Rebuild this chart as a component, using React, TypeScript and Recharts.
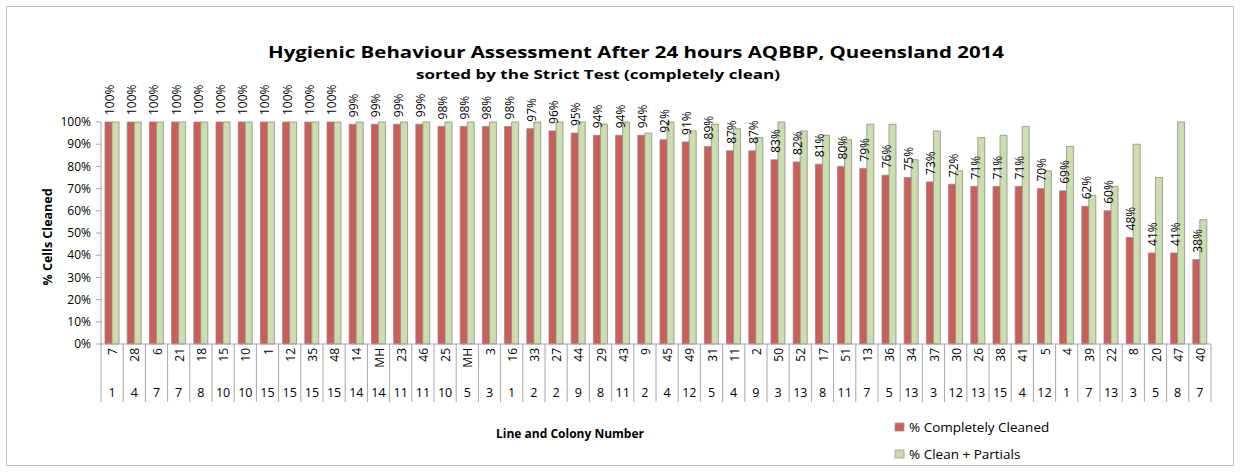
import React from 'react';
import { BarChart, Bar, XAxis, YAxis, LabelList, Legend } from 'recharts';

const lineNumbers = ['7','28','6','21','18','15','10','1','12','35','48','14','MH','23','46','25','MH','3','16','33','27','44','29','43','9','45','49','31','11','2','50','52','17','51','13','36','34','37','30','26','38','41','5','4','39','22','8','20','47','40'];
const colonyNumbers = ['1','4','7','7','8','10','10','15','15','15','15','14','14','11','11','10','5','3','1','2','2','9','8','11','2','4','12','5','4','9','3','13','8','11','7','5','13','3','12','13','15','4','12','1','7','13','3','5','8','7'];
const completelyCleaned = [100,100,100,100,100,100,100,100,100,100,100,99,99,99,99,98,98,98,98,97,96,95,94,94,94,92,91,89,87,87,83,82,81,80,79,76,75,73,72,71,71,71,70,69,62,60,48,41,41,38];
const cleanPlusPartials = [100,100,100,100,100,100,100,100,100,100,100,100,100,100,100,100,100,100,100,100,100,100,99,100,95,100,96,99,97,93,100,96,94,92,99,99,83,96,78,93,94,98,78,89,67,71,90,75,100,56];
const yTicks = [0,10,20,30,40,50,60,70,80,90,100];

const seriesNames = ['% Completely Cleaned', '% Clean + Partials'];
const seriesColors = ['#CD5D58', '#CEDDAE'];

const data = lineNumbers.map((l, i) => ({
  key: i,
  line: l,
  colony: colonyNumbers[i],
  clean: completelyCleaned[i],
  partial: cleanPlusPartials[i],
}));

const W = 1240;
const H = 472;
const PLOT_LEFT = 101;
const PLOT_RIGHT = 1211;
const AXIS_Y = 344;
const BAND = (PLOT_RIGHT - PLOT_LEFT) / lineNumbers.length;
const FONT = "'Open Sans', 'Noto Sans', sans-serif";
const GRID = '#A6A6A6';

const XTick = (props: any) => {
  const { x, payload } = props;
  const idx = payload.value as number;
  const d = data[idx];
  return (
    <g>
      <line x1={x - BAND / 2} x2={x - BAND / 2} y1={AXIS_Y} y2={402} stroke={GRID} strokeWidth={1} />
      {idx === data.length - 1 && (
        <line x1={x + BAND / 2} x2={x + BAND / 2} y1={AXIS_Y} y2={402} stroke={GRID} strokeWidth={1} />
      )}
      <text
        transform={`translate(${x + 0.5},${AXIS_Y + 4}) rotate(-90)`}
        textAnchor="end"
        dominantBaseline="central"
        fontSize={12}
        fontFamily={FONT}
        fill="#000"
      >
        {d.line}
      </text>
      <text x={x} y={397} textAnchor="middle" fontSize={12.5} fontFamily={FONT} fill="#000">
        {d.colony}
      </text>
    </g>
  );
};

const BarLabel = (props: any) => {
  const { x, y, width, value } = props;
  return (
    <text
      transform={`translate(${x + width / 2 + 1},${y - 7}) rotate(-90)`}
      textAnchor="start"
      dominantBaseline="central"
      fontSize={12}
      fontFamily={FONT}
      fill="#000"
    >
      {`${value}%`}
    </text>
  );
};

const LegendContent = () => (
  <svg width={200} height={56} style={{ overflow: 'visible' }}>
    {seriesNames.map((n, i) => (
      <g key={n}>
        <rect x={2} y={7 + i * 27} width={9} height={8} fill={seriesColors[i]} stroke="#999" strokeWidth={0.8} />
        <text x={16} y={16 + i * 27} fontSize={13.5} fontFamily={FONT} fill="#000">
          {n}
        </text>
      </g>
    ))}
  </svg>
);

export default function App() {
  return (
    <div style={{ position: 'absolute', left: 0, top: 0, width: W, height: H, background: '#fff' }}>
      <BarChart
        width={W}
        height={H}
        data={data}
        margin={{ top: 122, right: W - PLOT_RIGHT, bottom: H - AXIS_Y - 60, left: 0 }}
        barGap={0}
        barCategoryGap="18%"
      >
        <XAxis
          dataKey="key"
          type="category"
          height={60}
          interval={0}
          tickLine={false}
          axisLine={{ stroke: GRID }}
          tick={<XTick />}
        />
        <YAxis
          width={PLOT_LEFT}
          domain={[0, 100]}
          ticks={yTicks}
          interval={0}
          tickFormatter={(v: number) => `${v}%`}
          tickSize={5}
          tickMargin={5}
          axisLine={{ stroke: GRID }}
          tickLine={{ stroke: GRID }}
          tick={{ fontSize: 12, fontFamily: FONT, fill: '#000' }}
        />
        <Legend
          layout="horizontal"
          verticalAlign="middle"
          align="center"
          content={<LegendContent />}
          wrapperStyle={{ left: 893, top: 416, width: 200, height: 56 }}
        />
        <Bar
          dataKey="clean"
          name={seriesNames[0]}
          fill={seriesColors[0]}
          stroke="#8C8C8C"
          strokeWidth={0.8}
          barSize={7}
          isAnimationActive={false}
        >
          <LabelList dataKey="clean" content={<BarLabel />} />
        </Bar>
        <Bar
          dataKey="partial"
          name={seriesNames[1]}
          fill={seriesColors[1]}
          stroke="#8C8C8C"
          strokeWidth={0.8}
          barSize={7}
          isAnimationActive={false}
        />
      </BarChart>
      <svg width={W} height={H} style={{ position: 'absolute', left: 0, top: 0, pointerEvents: 'none' }}>
        <rect x={6.5} y={6.5} width={1227} height={459} fill="none" stroke="#BFBFBF" strokeWidth={1} />
        <text x={636} y={58} textAnchor="middle" fontSize={16.5} fontWeight="bold" fontFamily={FONT} fill="#000" textLength={736} lengthAdjust="spacingAndGlyphs">
          Hygienic Behaviour Assessment After 24 hours AQBBP, Queensland 2014
        </text>
        <text x={598} y={79} textAnchor="middle" fontSize={12.5} fontWeight="bold" fontFamily={FONT} fill="#000" textLength={364} lengthAdjust="spacingAndGlyphs">
          sorted by the Strict Test (completely clean)
        </text>
        <text transform="translate(47,237) rotate(-90)" textAnchor="middle" dominantBaseline="central" fontSize={12.5} fontWeight="bold" fontFamily={FONT} fill="#000">
          % Cells Cleaned
        </text>
        <text x={570} y={438} textAnchor="middle" fontSize={12} fontWeight="bold" fontFamily={FONT} fill="#000">
          Line and Colony Number
        </text>
      </svg>
    </div>
  );
}
